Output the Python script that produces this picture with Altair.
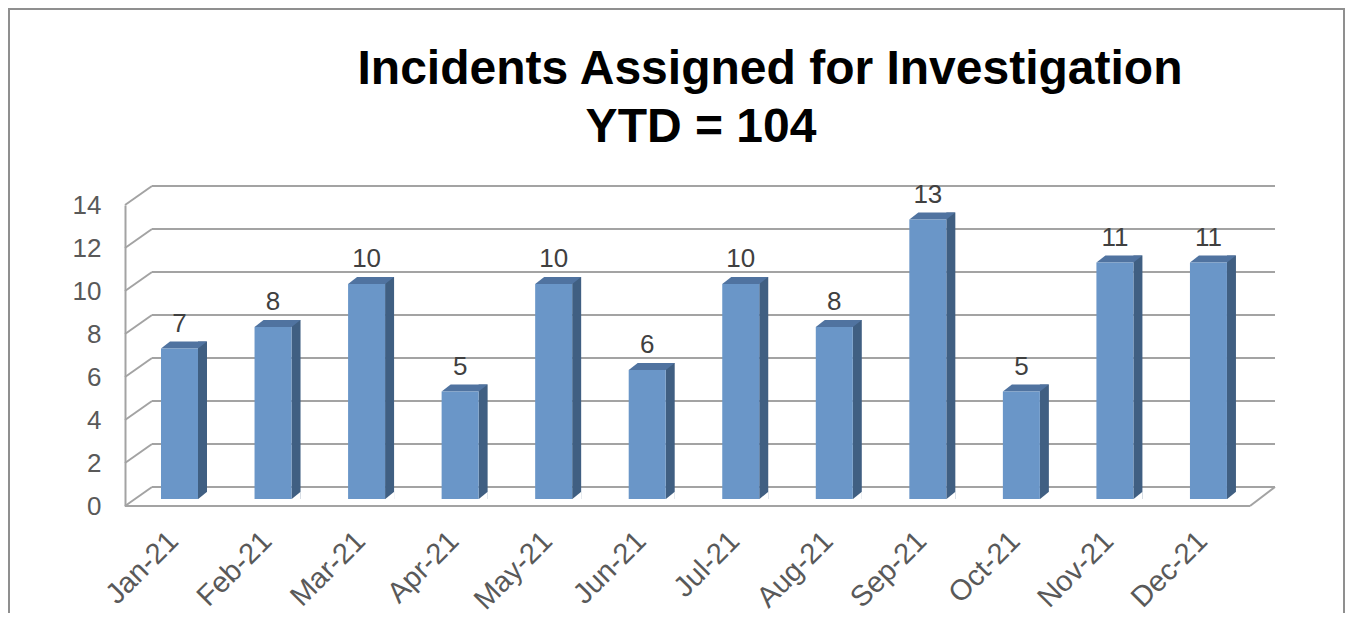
import altair as alt
import pandas as pd

# ---- data ----
months = ["Jan-21", "Feb-21", "Mar-21", "Apr-21", "May-21", "Jun-21",
          "Jul-21", "Aug-21", "Sep-21", "Oct-21", "Nov-21", "Dec-21"]
incidents = [7, 8, 10, 5, 10, 6, 10, 8, 13, 5, 11, 11]
y_ticks = [0, 2, 4, 6, 8, 10, 12, 14]
title_line1 = "Incidents Assigned for Investigation"
title_line2 = "YTD = 104"

bars_df = pd.DataFrame({"month": months, "count": incidents})
ticks_df = pd.DataFrame({"t": y_ticks})
one = pd.DataFrame({"a": [0]})

# ---- style ----
W, H = 1150, 301
DEPTH_X, DEPTH_Y = 27, 19
FRONT = "#6A96C8"
SIDE = "#405F82"
TOP = "#5073A0"
GRID = "#a3a3a3"
FRAME = "#8f8f8f"
FONT = "Liberation Sans"

x_scale = alt.Scale(paddingInner=0, paddingOuter=0.147, align=0.281)
x_axis = alt.Axis(title=None, domain=False, ticks=False, grid=False,
                  labelAngle=-45, labelAlign="right", labelBaseline="middle",
                  labelFontSize=29, labelColor="#595959", labelFont=FONT,
                  labelPadding=30, labelOffset=-6)
y_scale = alt.Scale(domain=[0, 14], nice=False, zero=True)
y_axis = alt.Axis(title=None, values=y_ticks, grid=False, ticks=False,
                  domain=True, domainColor=GRID, domainWidth=2,
                  labelFontSize=26, labelColor="#595959", labelFont=FONT,
                  labelPadding=24)


def X():
    return alt.X("month:N", sort=months, scale=x_scale, axis=x_axis)


def Y(field):
    return alt.Y(field, scale=y_scale, axis=y_axis)


def Y0():
    return alt.Y(datum=0, scale=y_scale, axis=y_axis)


# back wall gridlines
back_grid = alt.Chart(ticks_df).mark_rule(color=GRID, strokeWidth=2, yOffset=-DEPTH_Y).encode(
    y=Y("t:Q"), x=alt.value(DEPTH_X), x2=alt.value(W))
# left wall diagonals
left_diag = alt.Chart(ticks_df).mark_rule(color=GRID, strokeWidth=2, y2Offset=-DEPTH_Y).encode(
    y=Y("t:Q"), y2=alt.Y2("t:Q"), x=alt.value(0), x2=alt.value(DEPTH_X))
# floor front edge
floor_front = alt.Chart(one).mark_rule(color=GRID, strokeWidth=2).encode(
    y=Y0(), x=alt.value(0), x2=alt.value(W - 25))
floor_right = alt.Chart(one).mark_rule(color=GRID, strokeWidth=2, y2Offset=-DEPTH_Y).encode(
    y=Y0(), y2=alt.Y2(datum=0), x=alt.value(W - 25), x2=alt.value(W))

# 3D bars
side = alt.Chart(bars_df).mark_bar(width=9, xOffset=23, yOffset=-14, y2Offset=-7, color=SIDE).encode(
    x=X(), y=Y("count:Q"), y2=alt.Y2(datum=0))
bottom_cut = alt.Chart(bars_df).mark_point(
    shape="M -0.2 0.16 L 0.2 0.16 L 0.2 -0.16 Z", size=2116, filled=True,
    color="white", opacity=1, strokeWidth=0, xOffset=23, yOffset=-10.5).encode(
    x=X(), y=Y0())
top_face = alt.Chart(bars_df).mark_point(
    shape="M -1 0.152 L 0.609 0.152 L 1 -0.152 L -0.609 -0.152 Z", size=2116, filled=True,
    color=TOP, opacity=1, strokeWidth=0, xOffset=4.5, yOffset=-10.5).encode(
    x=X(), y=Y("count:Q"))
front = alt.Chart(bars_df).mark_bar(width=37, yOffset=-7, y2Offset=-7, color=FRONT).encode(
    x=X(), y=Y("count:Q"), y2=alt.Y2(datum=0))
labels = alt.Chart(bars_df).mark_text(font=FONT, fontSize=26, color="#404040",
                                      baseline="alphabetic", dy=-24).encode(
    x=X(), y=Y("count:Q"), text="count:Q")

# titles
t1 = alt.Chart(one).mark_text(text=title_line1, font=FONT, fontSize=48, fontWeight="bold",
                              align="center", baseline="alphabetic", color="black").encode(
    x=alt.value(645), y=alt.value(-121))
t2 = alt.Chart(one).mark_text(text=title_line2, font=FONT, fontSize=48, fontWeight="bold",
                              align="center", baseline="alphabetic", color="black").encode(
    x=alt.value(576), y=alt.value(-63))

# frame
fl = alt.Chart(one).mark_rule(color=FRAME, strokeWidth=2).encode(
    x=alt.value(-116), y=alt.value(-196.5), y2=alt.value(420))
ft = alt.Chart(one).mark_rule(color=FRAME, strokeWidth=2).encode(
    y=alt.value(-196), x=alt.value(-117), x2=alt.value(1220))
fr = alt.Chart(one).mark_rule(color=FRAME, strokeWidth=2).encode(
    x=alt.value(1219), y=alt.value(-196.5), y2=alt.value(420))

chart = alt.layer(
    back_grid, left_diag, floor_front, floor_right,
    side, bottom_cut, top_face, front, labels,
    t1, t2, fl, ft, fr
).properties(
    width=W, height=H,
    autosize=alt.AutoSizeParams(type="none"),
    padding={"left": 117, "top": 197, "right": 70, "bottom": 107},
).configure_view(stroke=None)

chart.save("out.html", embed_options={"renderer": "svg", "actions": False})
